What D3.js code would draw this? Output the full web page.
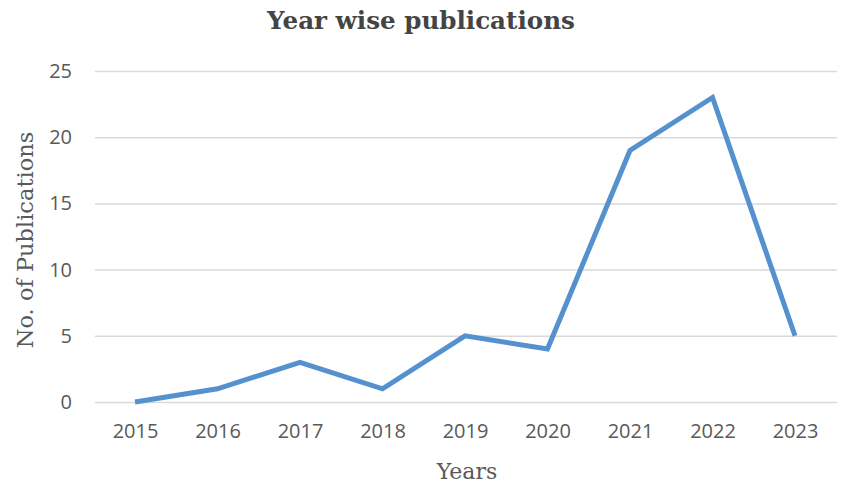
<!DOCTYPE html>
<html><head><meta charset="utf-8">
<script src="https://cdn.jsdelivr.net/npm/d3@7"></script>
<style>body{margin:0;background:#fff}svg{display:block}</style>
</head><body>
<script>
const years = ["2015","2016","2017","2018","2019","2020","2021","2022","2023"];
const publications = [0,1,3,1,5,4,19,23,5];
const yTicks = [0,5,10,15,20,25];

const W=851,H=496;
const svg=d3.select("body").append("svg").attr("width",W).attr("height",H);
const plotL=95, plotR=837, plotT=71, plotB=402;
const x=d3.scalePoint().domain(years).range([135,795]);
const y=d3.scaleLinear().domain([0,25]).range([plotB,plotT]);

// gridlines
const yAxis=d3.axisLeft(y).tickValues(yTicks).tickSize(-(plotR-plotL)).tickPadding(23);
const gy=svg.append("g").attr("transform",`translate(${plotL},0)`).call(yAxis);
gy.select(".domain").remove();
gy.selectAll(".tick line").attr("stroke","#d9d9d9").attr("stroke-width",1.5);
gy.selectAll(".tick text").attr("fill","#595959").style("font-family","'Open Sans',sans-serif").style("font-size","20px");

const xAxis=d3.axisBottom(x).tickSize(0).tickPadding(22);
const gx=svg.append("g").attr("transform",`translate(0,${plotB})`).call(xAxis);
gx.select(".domain").remove();
gx.selectAll(".tick text").attr("fill","#595959").style("font-family","'Open Sans',sans-serif").style("font-size","20px");

// line
svg.append("path").datum(publications.map((v,i)=>[years[i],v]))
  .attr("fill","none").attr("stroke","#5591ce").attr("stroke-width",5)
  .attr("stroke-linejoin","miter")
  .attr("d",d3.line().x(d=>x(d[0])).y(d=>y(d[1])));

// titles
svg.append("text").attr("x",421).attr("y",29).attr("text-anchor","middle")
  .style("font-family","'DejaVu Serif',serif").style("font-weight","bold").style("font-size","24.6px")
  .attr("fill","#444").text("Year wise publications");
svg.append("text").attr("transform","translate(33,240) rotate(-90)").attr("text-anchor","middle")
  .style("font-family","'DejaVu Serif',serif").style("font-size","22.5px")
  .attr("fill","#595959").text("No. of Publications");
svg.append("text").attr("x",467).attr("y",479).attr("text-anchor","middle")
  .style("font-family","'DejaVu Serif',serif").style("font-size","22px")
  .attr("fill","#595959").text("Years");
</script>
</body></html>
